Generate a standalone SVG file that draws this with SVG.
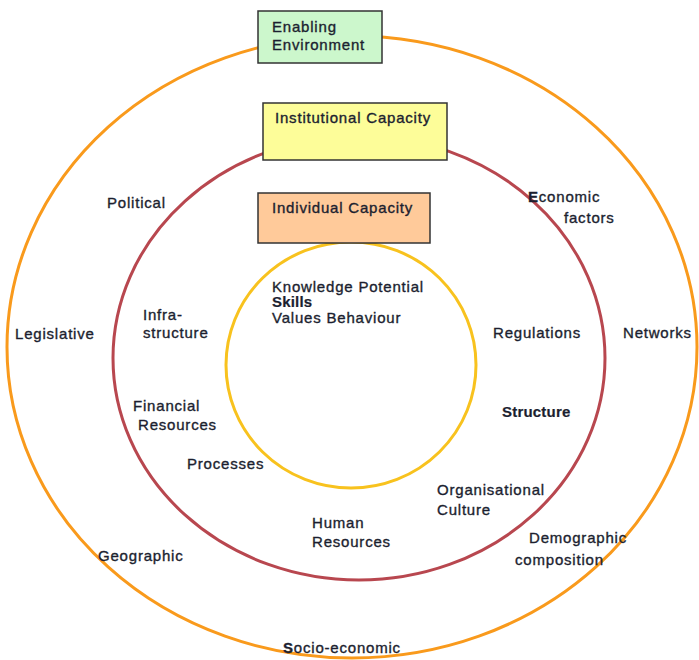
<svg xmlns="http://www.w3.org/2000/svg" width="699" height="660" viewBox="0 0 699 660">
<style>
.t{font-family:"Liberation Sans",Arial,sans-serif;font-size:15px;fill:#1c1f30;stroke:#1c1f30;stroke-width:0.35px;letter-spacing:0.8px}
.b{font-weight:bold;letter-spacing:0.2px;stroke-width:0.2px}
.box{stroke:#333;stroke-width:1.5}
.ring{fill:none;stroke-width:3}
</style>
<rect width="699" height="660" fill="#fff"/>
<g id="connectors">
<ellipse id="outer" class="ring" cx="352" cy="347" rx="345" ry="311" stroke="#f99a1c"/>
<ellipse id="middle" class="ring" cx="359" cy="358" rx="246" ry="222" stroke="#b8474f"/>
<ellipse id="inner" class="ring" cx="351" cy="365" rx="125" ry="123" stroke="#f8c21e"/>
</g>
<g id="enabling">
<rect class="box" x="258" y="11" width="124" height="52" fill="#ccf7cc"/>
<text class="t" x="272" y="32">Enabling</text>
<text class="t" x="272" y="50">Environment</text>
</g>
<g id="institutional">
<rect class="box" x="263" y="103" width="184" height="57" fill="#fdfd99"/>
<text class="t" x="275" y="123">Institutional Capacity</text>
</g>
<g id="individual">
<rect class="box" x="258" y="193" width="172" height="50" fill="#ffca9a"/>
<text class="t" x="272" y="213">Individual Capacity</text>
</g>
<g id="core">
<text class="t" x="272" y="292">Knowledge Potential</text>
<text class="t b" x="272" y="307">Skills</text>
<text class="t" x="272" y="323">Values Behaviour</text>
</g>
<g id="labels">
<text class="t" x="107" y="208">Political</text>
<text class="t" x="528" y="202"><tspan font-weight="bold">E</tspan>conomic</text>
<text class="t" x="564" y="223">factors</text>
<text class="t" x="15" y="339">Legislative</text>
<text class="t" x="143" y="320">Infra-</text>
<text class="t" x="143" y="338">structure</text>
<text class="t" x="493" y="338">Regulations</text>
<text class="t" x="623" y="338">Networks</text>
<text class="t" x="133" y="411">Financial</text>
<text class="t" x="138" y="430">Resources</text>
<text class="t b" x="502" y="417">Structure</text>
<text class="t" x="187" y="469">Processes</text>
<text class="t" x="437" y="495">Organisational</text>
<text class="t" x="437" y="515">Culture</text>
<text class="t" x="312" y="528">Human</text>
<text class="t" x="312" y="547">Resources</text>
<text class="t" x="529" y="543">Demographic</text>
<text class="t" x="515" y="565">composition</text>
<text class="t" x="98" y="561">Geographic</text>
<text class="t" x="283" y="653"><tspan font-weight="bold">S</tspan>ocio-economic</text>
</g>
</svg>
